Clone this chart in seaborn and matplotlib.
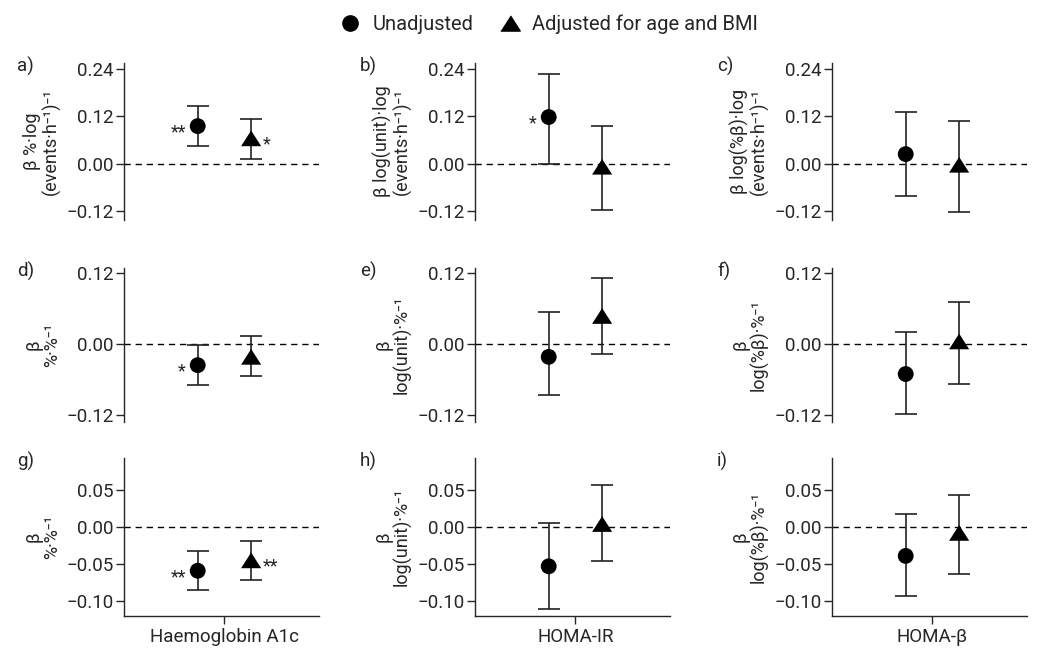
import pandas as pd
import matplotlib
matplotlib.use("Agg")
import matplotlib.pyplot as plt
from matplotlib.lines import Line2D
import seaborn as sns

outcomes = ["Haemoglobin A1c", "HOMA-IR", "HOMA-β"]
letters = ["a)", "b)", "c)", "d)", "e)", "f)", "g)", "h)", "i)"]
ylabels = ["β %·log\n(events·h⁻¹)⁻¹", "β log(unit)·log\n(events·h⁻¹)⁻¹", "β log(%β)·log\n(events·h⁻¹)⁻¹",
           "β\n%·%⁻¹", "β\nlog(unit)·%⁻¹", "β\nlog(%β)·%⁻¹",
           "β\n%·%⁻¹", "β\nlog(unit)·%⁻¹", "β\nlog(%β)·%⁻¹"]

# panels a-i, row by row
unadj_est = [0.095, 0.118, 0.024, -0.036, -0.022, -0.051, -0.059, -0.053, -0.039]
unadj_lo = [0.044, 0.000, -0.083, -0.070, -0.087, -0.119, -0.085, -0.110, -0.093]
unadj_hi = [0.146, 0.227, 0.131, -0.002, 0.053, 0.020, -0.033, 0.005, 0.017]
adj_est = [0.064, -0.008, -0.003, -0.022, 0.047, 0.004, -0.045, 0.004, -0.008]
adj_lo = [0.012, -0.118, -0.122, -0.055, -0.018, -0.068, -0.072, -0.046, -0.064]
adj_hi = [0.112, 0.095, 0.107, 0.013, 0.111, 0.071, -0.019, 0.056, 0.043]
unadj_stars = ["**", "*", "", "*", "", "", "**", "", ""]
adj_stars = ["*", "", "", "", "", "", "**", "", ""]
row_ticks = [[-0.12, 0.0, 0.12, 0.24], [-0.12, 0.0, 0.12], [-0.10, -0.05, 0.0, 0.05]]
row_ylim = [(-0.143, 0.255), (-0.132, 0.128), (-0.12, 0.093)]

groups = ["Unadjusted", "Adjusted for age and BMI"]
tri = [(-1, -0.78), (1, -0.78), (0, 0.78)]

sns.set_style("ticks")
plt.rcParams["font.family"] = ["Roboto", "DejaVu Sans"]
plt.rcParams["font.size"] = 13.5

W, H = 1038, 654
fig = plt.figure(figsize=(W / 100, H / 100), dpi=100)

col_left = [124, 475, 832]
col_w = 195
row_top = [63, 268, 458]
row_bot = [220, 422, 616]
letter_x = [17, 360, 717]
dodge = 0.137

for i in range(9):
    r, c = divmod(i, 3)
    ax = fig.add_axes([col_left[c] / W, 1 - row_bot[r] / H, col_w / W, (row_bot[r] - row_top[r]) / H])
    df = pd.DataFrame({
        "x": [-dodge, dodge],
        "y": [unadj_est[i], adj_est[i]],
        "lo": [unadj_lo[i], adj_lo[i]],
        "hi": [unadj_hi[i], adj_hi[i]],
        "group": groups,
    })
    ax.axhline(0, color="black", lw=1, ls=(0, (4.5, 3.5)), zorder=1)
    ax.errorbar(df["x"], df["y"], yerr=[df["y"] - df["lo"], df["hi"] - df["y"]],
                fmt="none", ecolor="#222222", elinewidth=1.2, capsize=8, capthick=1.2, zorder=2)
    sns.scatterplot(data=df, x="x", y="y", style="group", size="group",
                    markers={groups[0]: "o", groups[1]: tri},
                    sizes={groups[0]: 130, groups[1]: 210},
                    color="black", edgecolor="black", linewidth=0, legend=False, ax=ax, zorder=3)
    for xx, yy, st, side in [(-dodge, unadj_est[i], unadj_stars[i], -1), (dodge, adj_est[i], adj_stars[i], 1)]:
        if st:
            ax.annotate(st, (xx, yy), xytext=(side * 8.5, -4.5), textcoords="offset points",
                        ha="right" if side < 0 else "left", va="center", fontsize=13)

    ax.set_xlim(-0.515, 0.485)
    ax.set_ylim(*row_ylim[r])
    ax.set_yticks(row_ticks[r])
    ax.set_yticklabels([f"{t:.2f}".replace("-", "\u2212") for t in row_ticks[r]])
    ax.tick_params(axis="y", length=6, width=1, pad=1.5, labelsize=13.5)
    ax.set_ylabel(ylabels[i], fontsize=13, linespacing=1.0, labelpad=4)
    ax.set_xlabel("")
    sns.despine(ax=ax)
    ax.spines["left"].set_linewidth(1)
    if r < 2:
        ax.spines["bottom"].set_visible(False)
        ax.set_xticks([])
    else:
        ax.spines["bottom"].set_linewidth(1)
        ax.set_xticks([0])
        ax.set_xticklabels([outcomes[c]])
        ax.tick_params(axis="x", length=6, width=1, pad=3, labelsize=13.5)
    fig.text(letter_x[c] / W, 1 - (row_top[r] - 6) / H, letters[i], ha="left", va="top", fontsize=13.5)

handles = [Line2D([], [], ls="none", marker="o", color="black", markersize=11),
           Line2D([], [], ls="none", marker=tri, color="black", markersize=14)]
fig.legend(handles, groups, loc="upper center", bbox_to_anchor=(0.528, 1.005), ncol=2, frameon=False,
           handletextpad=0.5, columnspacing=1.2, fontsize=14.5, handlelength=1.2)

fig.savefig("out.png", dpi=100)
